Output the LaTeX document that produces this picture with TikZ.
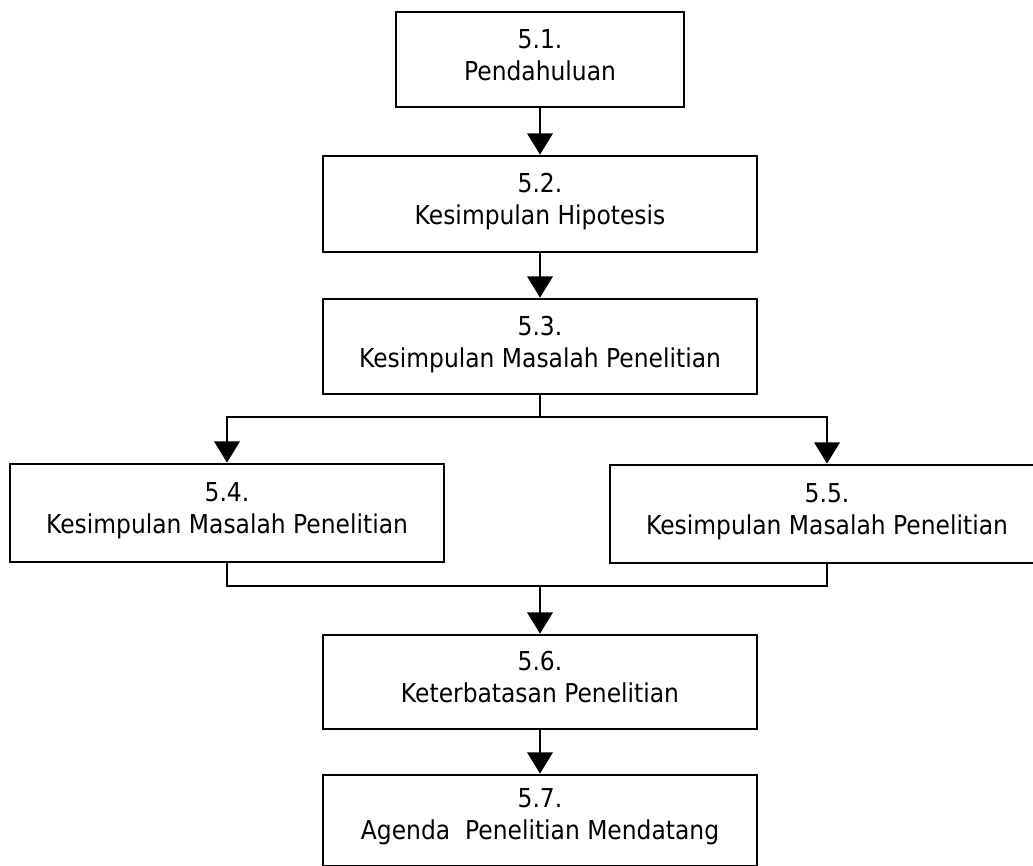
\documentclass[tikz,border=0pt]{standalone}
\usepackage{fontspec}
\setmainfont{DejaVu Sans}[FakeStretch=0.9]
\usetikzlibrary{arrows.meta}
\begin{document}
\begin{tikzpicture}[x=0.75pt,y=-0.75pt,
  box/.style={draw=black,line width=2pt,rectangle,inner sep=0pt},
  caption/.style={align=center,inner sep=0pt,anchor=north,text=black,
    font=\fontsize{19.5pt}{24pt}\selectfont},
  link/.style={draw=black,line width=2pt},
  flow/.style={link,-{Triangle[width=19pt,length=16pt]}}]

\useasboundingbox (0,0) rectangle (1033,866);
\clip (0,0) rectangle (1033,866);

% boxes (centres in pixel units, sizes in pt)
\node[box,minimum width=216pt,minimum height=71.25pt]   (b1) at (540,59.5)  {};
\node[box,minimum width=325.5pt,minimum height=72pt]    (b2) at (540,204)   {};
\node[box,minimum width=325.5pt,minimum height=71.25pt] (b3) at (540,346.5) {};
\node[box,minimum width=325.5pt,minimum height=73.5pt]  (b4) at (227,513)   {};
\node[box,minimum width=325.5pt,minimum height=73.5pt]  (b5) at (827,514)   {};
\node[box,minimum width=325.5pt,minimum height=70.5pt]  (b6) at (540,682)   {};
\node[box,minimum width=325.5pt,minimum height=68.25pt] (b7) at (540,820.5) {};

% box captions
\node[caption] (t1) at (540,29)  {5.1.\\Pendahuluan};
\node[caption] (t2) at (540,173) {5.2.\\Kesimpulan Hipotesis};
\node[caption] (t3) at (540,316) {5.3.\\Kesimpulan Masalah Penelitian};
\node[caption] (t4) at (227,482) {5.4.\\Kesimpulan Masalah Penelitian};
\node[caption] (t5) at (827,483) {5.5.\\Kesimpulan Masalah Penelitian};
\node[caption] (t6) at (540,651) {5.6.\\Keterbatasan Penelitian};
\node[caption] (t7) at (540,788) {5.7.\\Agenda\ \ Penelitian Mendatang};

% branch and merge points
\coordinate (split) at (540,417);
\coordinate (merge) at (540,586);

% connectors
\draw[flow] (b1.south) -- (b2.north);
\draw[flow] (b2.south) -- (b3.north);
\draw[flow] (b3.south) -- (split) -| (b4.north);
\draw[flow] (split) -| (b5.north);
\draw[link] (b4.south) |- (merge) -| (b5.south);
\draw[flow] (merge) -- (b6.north);
\draw[flow] (b6.south) -- (b7.north);
\end{tikzpicture}
\end{document}
